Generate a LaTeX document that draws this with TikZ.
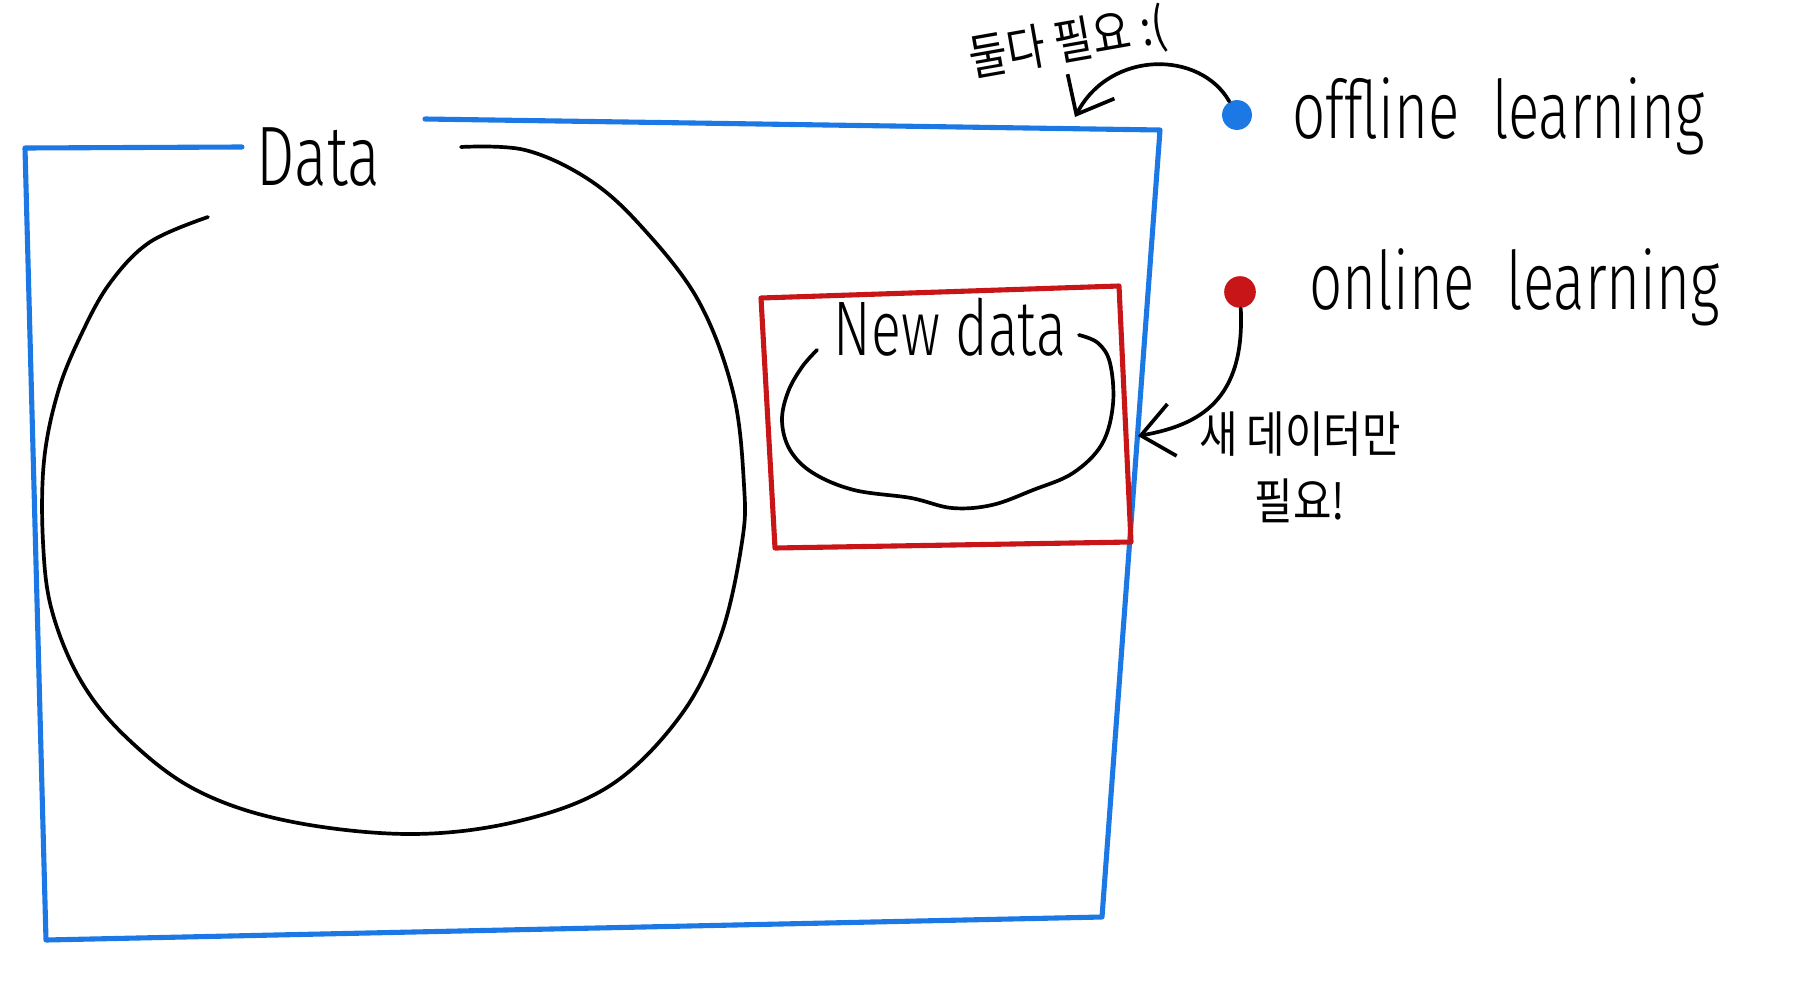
\documentclass[tikz,border=0pt]{standalone}
\usepackage{fontspec}
\setmainfont{Noto Sans}
\newfontfamily\hand[FakeStretch=0.72]{Fira Sans Light}
\newfontfamily\kor[FakeStretch=0.85]{Noto Sans CJK KR}
\usetikzlibrary{arrows.meta,positioning}
\definecolor{penblue}{RGB}{28,120,228}
\definecolor{penred}{RGB}{200,22,24}

\begin{document}
\begin{tikzpicture}[x=0.01cm, y=-0.01cm, line cap=round, line join=round]
\useasboundingbox (0,0) rectangle (1809,1000);

    \tikzstyle{pen}=[draw=black, line width=1.05pt];
    \tikzstyle{bluepen}=[draw=penblue, line width=1.45pt];
    \tikzstyle{redpen}=[draw=penred, line width=1.45pt];
    \tikzstyle{hand}=[inner sep=0pt, anchor=base west, font=\hand\fontsize{23}{26}\selectfont];
    \tikzstyle{note}=[inner sep=0pt, align=center, font=\kor\fontsize{14}{18}\selectfont];
    \tikzstyle{dot}=[circle, inner sep=0pt, minimum size=8.5pt, draw=none];
    \tikzstyle{barb}=[-{Straight Barb[length=9pt, width=15pt, line width=1.05pt]}];

% all data
\draw[bluepen] (242,147) -- (25,148) -- (46,940) -- (1102,917) -- (1160,130) -- (425,119);
\node[hand, font=\hand\fontsize{24}{28}\selectfont] (datalbl) at (256,185) {Data};
\draw[pen] plot[smooth, tension=0.6] coordinates {(208,217) (150,242) (110,283) (81,335)
   (58,392) (44,461) (43,542) (52,611) (81,681) (127,738) (196,790) (288,821) (410,834)
   (519,821) (611,785) (681,715) (721,635) (742,542) (744,485) (733,392) (698,300)
   (640,225) (588,179) (525,150) (461,147)};

% new data
\draw[redpen] (761,298) -- (1119,286) -- (1131,542) -- (775,548) -- cycle;
\node[hand, font=\hand\fontsize{22}{24}\selectfont] (newlbl) at (833,355) {New data};
\draw[pen] plot[smooth, tension=0.6] coordinates {(817,350) (802,367) (788,392) (782,421)
   (790,450) (813,473) (854,490) (911,498) (952,508) (992,505) (1033,490) (1073,473)
   (1102,444) (1113,404) (1110,363) (1098,343) (1079,335)};

% legend
\node[dot, fill=penblue] (bluedot) at (1237,115) {};
\node[dot, fill=penred, minimum size=9pt] (reddot) at (1240,292) {};
\node[hand] (offline) at (1292,138) {offline\ \ learning};
\node[hand] (online) at (1309,309) {online\ \ learning};

% notes
\coordinate (tipA) at (1075,117);
\coordinate (tipB) at (1138,436);
\draw[pen, barb] (bluedot) .. controls (1200,50) and (1110,50) .. (tipA);
\draw[pen, barb] (reddot) .. controls (1245,400) and (1200,425) .. (tipB);
\node[note, rotate=10] (bothlbl) at (1068,44) {둘다 필요 :(};
\node[note] (onlylbl) at (1300,467) {새 데이터만\\[1pt]필요!};
\end{tikzpicture}
\end{document}
